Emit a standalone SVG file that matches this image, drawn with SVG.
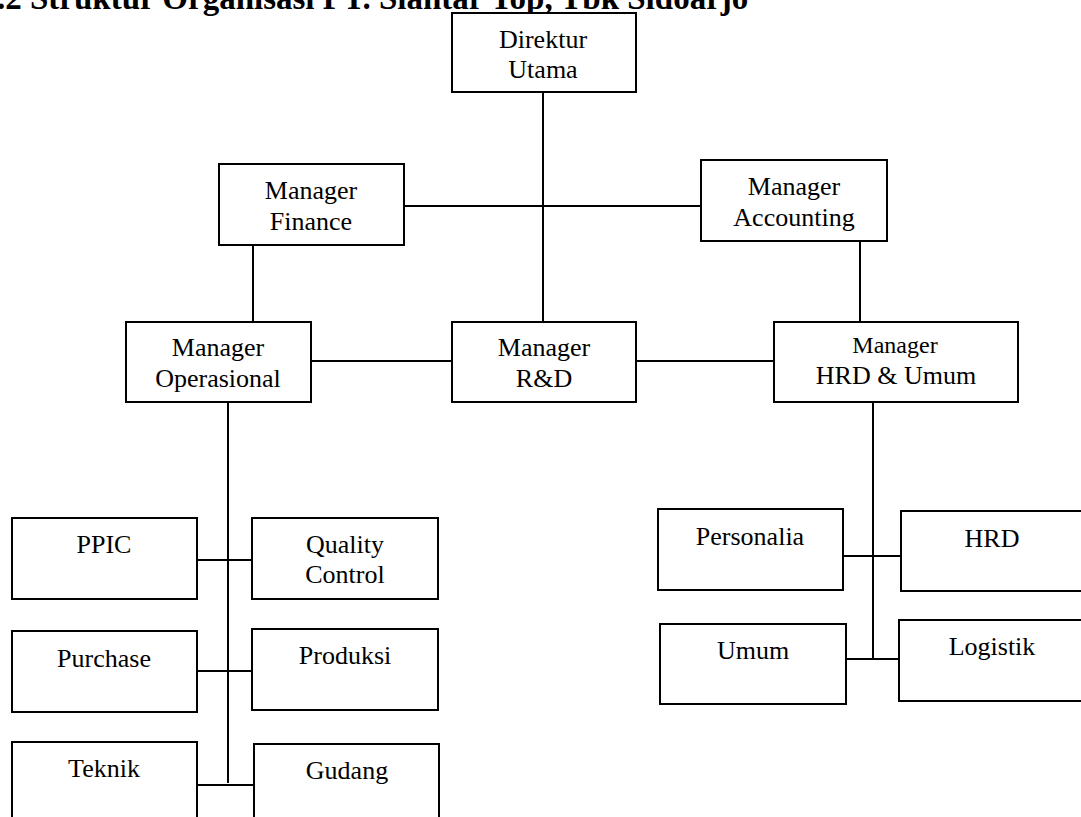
<svg xmlns="http://www.w3.org/2000/svg" width="1081" height="817" viewBox="0 0 1081 817">
<style>
.box{fill:#fff;stroke:#000;stroke-width:2}
.t{font-family:"Liberation Serif","Times New Roman",serif;font-size:26px;fill:#000;text-anchor:middle}
.s{font-size:24px}
.title{font-family:"Liberation Serif","Times New Roman",serif;font-size:33px;font-weight:bold;fill:#000}
#connectors line{stroke:#000;stroke-width:2}
</style>
<rect x="0" y="0" width="1081" height="817" fill="#fff"/>
<text class="title" x="-3" y="9">.2 Struktur Organisasi PT. Siantar Top, Tbk Sidoarjo</text>
<g id="connectors">
<line x1="543" y1="92" x2="543" y2="322"/>
<line x1="404" y1="206" x2="701" y2="206"/>
<line x1="253" y1="245" x2="253" y2="322"/>
<line x1="860" y1="241" x2="860" y2="322"/>
<line x1="311" y1="361" x2="452" y2="361"/>
<line x1="636" y1="361" x2="774" y2="361"/>
<line x1="228" y1="402" x2="228" y2="783"/>
<line x1="197" y1="560" x2="252" y2="560"/>
<line x1="197" y1="671" x2="252" y2="671"/>
<line x1="198" y1="785" x2="254" y2="785"/>
<line x1="873" y1="402" x2="873" y2="659"/>
<line x1="843" y1="556" x2="901" y2="556"/>
<line x1="846" y1="659" x2="899" y2="659"/>
</g>
<g id="direktur"><rect class="box" x="452" y="13" width="184" height="79"/><text class="t" x="543" y="48">Direktur</text><text class="t" x="543" y="78">Utama</text></g>
<g id="finance"><rect class="box" x="219" y="164" width="185" height="81"/><text class="t" x="311" y="199">Manager</text><text class="t" x="311" y="230">Finance</text></g>
<g id="accounting"><rect class="box" x="701" y="160" width="186" height="81"/><text class="t" x="794" y="195">Manager</text><text class="t" x="794" y="226">Accounting</text></g>
<g id="operasional"><rect class="box" x="126" y="322" width="185" height="80"/><text class="t" x="218" y="356">Manager</text><text class="t" x="218" y="387">Operasional</text></g>
<g id="rnd"><rect class="box" x="452" y="322" width="184" height="80"/><text class="t" x="544" y="356">Manager</text><text class="t" x="544" y="387">R&amp;D</text></g>
<g id="hrdumum"><rect class="box" x="774" y="322" width="244" height="80"/><text class="t s" x="895" y="353">Manager</text><text class="t" x="896" y="384">HRD &amp; Umum</text></g>
<g id="ppic"><rect class="box" x="12" y="518" width="185" height="81"/><text class="t" x="104" y="553">PPIC</text></g>
<g id="qc"><rect class="box" x="252" y="518" width="186" height="81"/><text class="t" x="345" y="553">Quality</text><text class="t" x="345" y="583">Control</text></g>
<g id="purchase"><rect class="box" x="12" y="631" width="185" height="81"/><text class="t" x="104" y="667">Purchase</text></g>
<g id="produksi"><rect class="box" x="252" y="629" width="186" height="81"/><text class="t" x="345" y="664">Produksi</text></g>
<g id="teknik"><rect class="box" x="12" y="742" width="185" height="90"/><text class="t" x="104" y="777">Teknik</text></g>
<g id="gudang"><rect class="box" x="254" y="744" width="185" height="90"/><text class="t" x="347" y="779">Gudang</text></g>
<g id="personalia"><rect class="box" x="658" y="509" width="185" height="81"/><text class="t" x="750" y="545">Personalia</text></g>
<g id="hrd"><rect class="box" x="901" y="511" width="185" height="80"/><text class="t" x="992" y="547">HRD</text></g>
<g id="umum"><rect class="box" x="660" y="624" width="186" height="80"/><text class="t" x="753" y="659">Umum</text></g>
<g id="logistik"><rect class="box" x="899" y="620" width="186" height="81"/><text class="t" x="992" y="655">Logistik</text></g>
</svg>
